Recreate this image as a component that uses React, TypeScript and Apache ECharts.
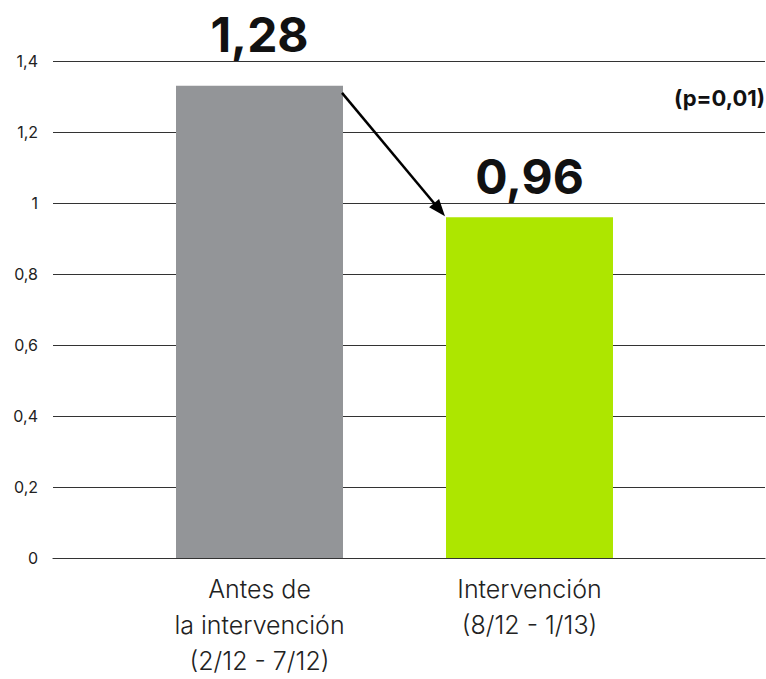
import React, { useEffect, useRef } from "react";
import * as echarts from "echarts";

const categories = ["Antes de\nla intervención\n(2/12 - 7/12)", "Intervención\n(8/12 - 1/13)"];
const barValues = [1.33, 0.96];
const valueLabels = ["1,28", "0,96"];
const barColors = ["#939598", "#ADE600"];
const labelDistances = [27, 17];
const pValueText = "(p=0,01)";
const yMin = 0;
const yMax = 1.4;
const yInterval = 0.2;

const fmt = (v: number) => String(Number(v.toFixed(1))).replace(".", ",");

export default function App() {
  const ref = useRef<HTMLDivElement>(null);
  useEffect(() => {
    if (!ref.current) return;
    const chart = echarts.init(ref.current, null, { renderer: "svg" });
    const barWidth = 167;
    chart.setOption({
      animation: false,
      textStyle: { fontFamily: "Inter" },
      grid: [
        { left: 53, top: 61, width: 712, height: 497, outerBoundsMode: "none", containLabel: false },
        { left: 124.5, top: 61, width: 540, height: 497, outerBoundsMode: "none", containLabel: false },
      ],
      xAxis: [
        {
          type: "value",
          gridIndex: 0,
          min: 0,
          max: 1,
          axisLine: { show: true, lineStyle: { color: "#333", width: 1.2 } },
          axisTick: { show: false },
          axisLabel: { show: false },
          splitLine: { show: false },
        },
        {
          type: "category",
          gridIndex: 1,
          data: categories,
          axisLine: { show: false },
          axisTick: { show: false },
          axisLabel: {
            margin: 13,
            fontSize: 25,
            fontWeight: 300,
            lineHeight: 36,
            color: "#222",
            fontFamily: "Inter",
          },
        },
      ],
      yAxis: [
        {
          type: "value",
          gridIndex: 0,
          min: yMin,
          max: yMax,
          interval: yInterval,
          axisLine: { show: false },
          axisTick: { show: false },
          axisLabel: {
            margin: 15,
            fontSize: 16,
            color: "#222",
            fontFamily: "Inter",
            formatter: (v: number) => fmt(v),
          },
          splitLine: { show: true, lineStyle: { color: "#333", width: 1.2 } },
        },
        {
          type: "value",
          gridIndex: 1,
          min: yMin,
          max: yMax,
          interval: yInterval,
          show: false,
          splitLine: { show: false },
        },
      ],
      series: [
        {
          type: "bar",
          xAxisIndex: 1,
          yAxisIndex: 1,
          barWidth,
          data: barValues.map((v, i) => ({
            value: v,
            itemStyle: { color: barColors[i] },
            label: { distance: labelDistances[i] },
          })),
          label: {
            show: true,
            position: "top",
            fontSize: 48,
            fontWeight: 700,
            color: "#111",
            fontFamily: "Inter",
            formatter: (p: any) => valueLabels[p.dataIndex],
          },
        },
      ],
    });

    const p0 = chart.convertToPixel({ xAxisIndex: 1, yAxisIndex: 1 } as any, [0, barValues[0]]) as number[];
    const p1 = chart.convertToPixel({ xAxisIndex: 1, yAxisIndex: 1 } as any, [1, barValues[1]]) as number[];
    const sx = p0[0] + barWidth / 2 - 1;
    const sy = p0[1] + 7;
    const ex = p1[0] - barWidth / 2 - 1;
    const ey = p1[1] - 1;
    const dx = ex - sx;
    const dy = ey - sy;
    const len = Math.sqrt(dx * dx + dy * dy);
    const ux = dx / len;
    const uy = dy / len;
    const headLen = 17;
    const headHalf = 6.5;
    const bx = ex - ux * headLen;
    const by = ey - uy * headLen;
    const nx = -uy;
    const ny = ux;

    chart.setOption({
      graphic: [
        {
          type: "line",
          shape: { x1: sx, y1: sy, x2: bx + ux * 2, y2: by + uy * 2 },
          style: { stroke: "#000", lineWidth: 2.5 },
          z: 100,
        },
        {
          type: "polygon",
          shape: {
            points: [
              [ex, ey],
              [bx + nx * headHalf, by + ny * headHalf],
              [bx - nx * headHalf, by - ny * headHalf],
            ],
          },
          style: { fill: "#000" },
          z: 100,
        },
        {
          type: "text",
          right: 1,
          top: 87,
          style: {
            text: pValueText,
            fontSize: 22,
            fontWeight: 700,
            fontFamily: "Inter",
            fill: "#111",
          },
          z: 100,
        },
      ],
    });

    return () => chart.dispose();
  }, []);
  return (
    <div
      ref={ref}
      style={{ position: "fixed", left: 0, top: 0, width: 766, height: 679, background: "#fff" }}
    />
  );
}
